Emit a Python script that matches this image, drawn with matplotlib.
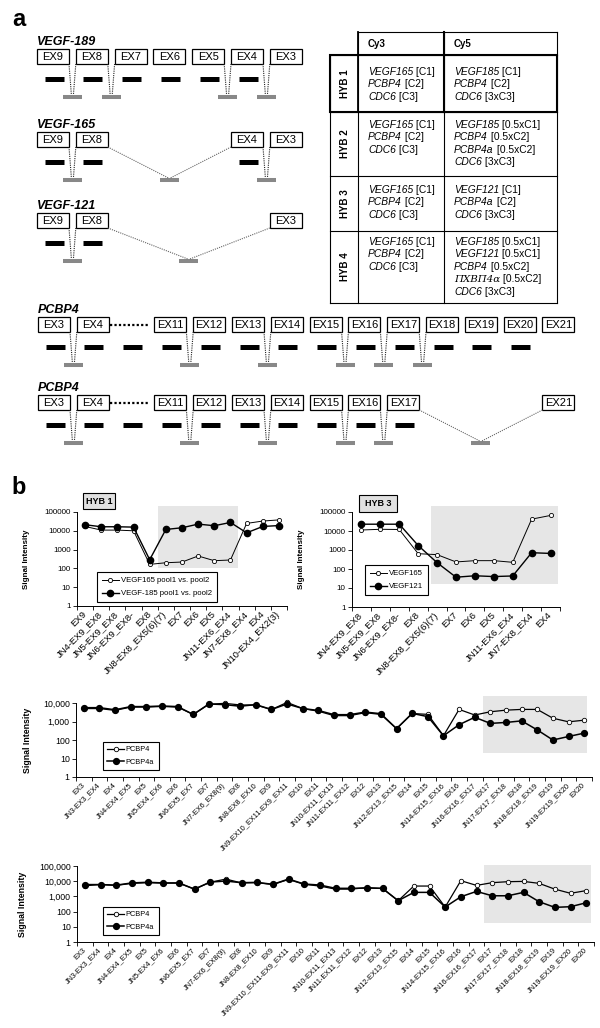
import numpy as np
import matplotlib
matplotlib.use('Agg')
import matplotlib.pyplot as plt
from matplotlib.patches import Rectangle

plt.rcParams['font.family'] = ['Liberation Sans', 'DejaVu Sans']

# ---------------- panel a : transcript diagrams ----------------
vegf_exons = ['EX9', 'EX8', 'EX7', 'EX6', 'EX5', 'EX4', 'EX3']
vegf189_shown = ['EX9', 'EX8', 'EX7', 'EX6', 'EX5', 'EX4', 'EX3']
vegf189_probes = ['EX9', 'EX8', 'EX7', 'EX6', 'EX5', 'EX4']
vegf189_junc = [('EX9', 'EX8'), ('EX8', 'EX7'), ('EX5', 'EX4'), ('EX4', 'EX3')]
vegf165_shown = ['EX9', 'EX8', 'EX4', 'EX3']
vegf165_probes = ['EX9', 'EX8', 'EX4']
vegf165_junc = [('EX9', 'EX8'), ('EX8', 'EX4'), ('EX4', 'EX3')]
vegf121_shown = ['EX9', 'EX8', 'EX3']
vegf121_probes = ['EX9', 'EX8']
vegf121_junc = [('EX9', 'EX8'), ('EX8', 'EX3')]

pcbp4_exons = ['EX3', 'EX4', '...', 'EX11', 'EX12', 'EX13', 'EX14', 'EX15',
               'EX16', 'EX17', 'EX18', 'EX19', 'EX20', 'EX21']
pcbp4_shown = pcbp4_exons
pcbp4_probes = pcbp4_exons[:13]
pcbp4_junc = [('EX3', 'EX4'), ('EX11', 'EX12'), ('EX13', 'EX14'),
              ('EX15', 'EX16'), ('EX16', 'EX17'), ('EX17', 'EX18')]
pcbp4a_shown = ['EX3', 'EX4', '...', 'EX11', 'EX12', 'EX13', 'EX14', 'EX15',
                'EX16', 'EX17', 'EX21']
pcbp4a_probes = pcbp4_exons[:10]
pcbp4a_junc = [('EX3', 'EX4'), ('EX11', 'EX12'), ('EX13', 'EX14'),
               ('EX15', 'EX16'), ('EX16', 'EX17'), ('EX17', 'EX21')]

# table
hyb_rows = ['HYB 1', 'HYB 2', 'HYB 3', 'HYB 4']
cy3_cells = [
    [('VEGF165', '[C1]'), ('PCBP4', '[C2]'), ('CDC6', '[C3]')],
    [('VEGF165', '[C1]'), ('PCBP4', '[C2]'), ('CDC6', '[C3]')],
    [('VEGF165', '[C1]'), ('PCBP4', '[C2]'), ('CDC6', '[C3]')],
    [('VEGF165', '[C1]'), ('PCBP4', '[C2]'), ('CDC6', '[C3]')],
]
cy5_cells = [
    [('VEGF185', '[C1]'), ('PCBP4', '[C2]'), ('CDC6', '[3xC3]')],
    [('VEGF185', '[0.5xC1]'), ('PCBP4', '[0.5xC2]'), ('PCBP4a', '[0.5xC2]'), ('CDC6', '[3xC3]')],
    [('VEGF121', '[C1]'), ('PCBP4a', '[C2]'), ('CDC6', '[3xC3]')],
    [('VEGF185', '[0.5xC1]'), ('VEGF121', '[0.5xC1]'), ('PCBP4', '[0.5xC2]'),
     ('ΠΧΒΠ4α', '[0.5xC2]'), ('CDC6', '[3xC3]')],
]

# ---------------- panel b : signal intensities ----------------
hyb1_cats = ['EX9', 'JN4-EX9_EX8', 'JN5-EX9_EX8', 'JN6-EX9_EX8-', 'EX8',
             'JN8-EX8_EX5(6)(7)', 'EX7', 'EX6', 'EX5', 'JN11-EX6_EX4',
             'JN7-EX8_EX4', 'EX4', 'JN10-EX4_EX2(3)']
hyb1_v165 = [17000, 10900, 10900, 10000, 164, 200, 218, 457, 257, 280, 24700, 33000, 38000]
hyb1_v185 = [21000, 16400, 16400, 15700, 290, 11800, 14500, 22700, 18600, 27800, 7800, 17000, 19000]

hyb3_cats = ['JN4-EX9_EX8', 'JN5-EX9_EX8', 'JN6-EX9_EX8-', 'EX8',
             'JN8-EX8_EX5(6)(7)', 'EX7', 'EX6', 'EX5', 'JN11-EX6_EX4',
             'JN7-EX8_EX4', 'EX4']
hyb3_v165 = [11300, 12300, 12000, 640, 570, 235, 275, 275, 225, 42000, 66000]
hyb3_v121 = [22800, 22800, 22800, 1720, 215, 37, 44, 40, 43, 720, 660]

pcbp_cats = ['EX3', 'JN3-EX3_EX4', 'EX4', 'JN4-EX4_EX5', 'EX5', 'JN5-EX4_EX6',
             'EX6', 'JN6-EX5_EX7', 'EX7', 'JN7-EX6_EX8(9)', 'EX8', 'JN8-EX8_EX10',
             'EX9', 'JN9-EX10_EX11-EX9_EX11', 'EX10', 'EX11', 'JN10-EX11_EX13',
             'JN11-EX11_EX12', 'EX12', 'EX13', 'JN12-EX13_EX15', 'EX14', 'EX15',
             'JN14-EX15_EX16', 'EX16', 'JN16-EX16_EX17', 'EX17', 'JN17-EX17_EX18',
             'EX18', 'JN18-EX18_EX19', 'EX19', 'JN19-EX19_EX20', 'EX20']
hyb2_pcbp4 = [5000, 5000, 4000, 6000, 6000, 6500, 6000, 2400, 8500, 9600, 7850,
              7800, 4400, 10800, 5000, 3600, 2070, 2070, 3000, 2400, 410, 2700,
              2430, 170, 4500, 2240, 3360, 4110, 4500, 4500, 1500, 960, 1180]
hyb2_pcbp4a = [5600, 5600, 4300, 6400, 6400, 6900, 6400, 2400, 8860, 8170, 6680,
               8170, 4460, 8860, 5030, 3950, 2340, 2340, 3230, 2640, 410, 2750,
               1830, 170, 670, 1690, 790, 890, 1080, 350, 100, 155, 235]
hyb4_pcbp4 = [5000, 6000, 5300, 7200, 8000, 7500, 7500, 3000, 8500, 13800, 7700,
              8000, 6000, 13000, 6200, 4800, 3000, 3000, 3800, 3300, 520, 4800,
              4800, 200, 10800, 5300, 8000, 9300, 9700, 7200, 3000, 1600, 2400]
hyb4_pcbp4a = [6000, 6000, 5500, 7700, 8500, 7700, 7700, 3000, 8800, 10200, 7960,
               8400, 6200, 13900, 6500, 5600, 3400, 3400, 3550, 3400, 520, 1840,
               1840, 200, 950, 2130, 1100, 1100, 1840, 445, 190, 210, 380]

W, H = 600, 1028
fig = plt.figure(figsize=(W / 100, H / 100), dpi=100)
ax0 = fig.add_axes([0, 0, 1, 1])
ax0.set_xlim(0, W)
ax0.set_ylim(H, 0)
ax0.axis('off')

ax0.text(19, 19, 'a', fontsize=17, fontweight='bold', ha='center', va='center')
ax0.text(19, 487, 'b', fontsize=17, fontweight='bold', ha='center', va='center')

STEP, BW, BH = 38.8, 32, 15


def transcript(name, exons, shown, probes, junc, top, x0=37):
    slot = {e: i for i, e in enumerate(exons)}
    ax0.text(x0, top - 4, name, fontsize=9, fontweight='bold', style='italic',
             ha='left', va='baseline')
    for e in shown:
        bx = x0 + slot[e] * STEP
        if e == '...':
            ax0.plot([bx - STEP + BW + 1, bx + BW + 1], [top + BH / 2] * 2, color='k',
                     lw=1.6, ls=(0, (1, 1)))
            continue
        ax0.add_patch(Rectangle((bx, top), BW, BH, fill=False, lw=0.9, ec='k'))
        ax0.text(bx + BW / 2, top + BH / 2 + 0.5, e, fontsize=8, ha='center', va='center')
    for e in probes:
        cx = x0 + slot[e] * STEP + BW / 2 + 1
        ax0.plot([cx - 9.5, cx + 9.5], [top + 30] * 2, color='k', lw=3.6,
                 solid_capstyle='butt')
    for a, b in junc:
        xa = x0 + slot[a] * STEP + BW
        xb = x0 + slot[b] * STEP
        cx = (xa + xb) / 2
        ax0.plot([cx - 9.5, cx + 9.5], [top + 47.5] * 2, color='#888888', lw=2.9,
                 solid_capstyle='butt')
        col = '#222222' if slot[b] - slot[a] == 1 else '#666666'
        ax0.plot([xa, cx - 1], [top + BH, top + 46], color=col, lw=0.8, ls=(0, (1, 1)))
        ax0.plot([xb, cx + 1], [top + BH, top + 46], color=col, lw=0.8, ls=(0, (1, 1)))


transcript('VEGF-189', vegf_exons, vegf189_shown, vegf189_probes, vegf189_junc, 49)
transcript('VEGF-165', vegf_exons, vegf165_shown, vegf165_probes, vegf165_junc, 132)
transcript('VEGF-121', vegf_exons, vegf121_shown, vegf121_probes, vegf121_junc, 213)
transcript('PCBP4', pcbp4_exons, pcbp4_shown, pcbp4_probes, pcbp4_junc, 317, x0=38)
transcript('PCBP4', pcbp4_exons, pcbp4a_shown, pcbp4a_probes, pcbp4a_junc, 395, x0=38)

# table
tx = [330, 358, 444, 557]
ty = [32, 55, 112, 176, 231, 303]
lw_t = 0.8
ax0.plot([358, 557], [32, 32], color='k', lw=lw_t)
for y in ty[1:]:
    ax0.plot([330, 557], [y, y], color='k', lw=lw_t)
ax0.plot([330, 330], [55, 303], color='k', lw=lw_t)
for x in tx[1:]:
    ax0.plot([x, x], [32, 303], color='k', lw=lw_t)
ax0.add_patch(Rectangle((330, 55), 227, 57, fill=False, lw=1.5, ec='k'))
ax0.plot([444, 444], [32, 112], color='k', lw=1.5)
ax0.plot([358, 358], [32, 112], color='k', lw=1.3)
ax0.text(368, 44, 'Cy3', fontsize=7, fontweight='bold', va='center')
ax0.text(454, 44, 'Cy5', fontsize=7, fontweight='bold', va='center')

FS_T = 7.4
row_start = [72, 125, 190, 242]
for r, lab in enumerate(hyb_rows):
    ax0.text(345, (ty[r + 1] + ty[r + 2]) / 2, lab, rotation=90, fontsize=7,
             fontweight='bold', ha='center', va='center')
    for cells, cx in ((cy3_cells[r], 368), (cy5_cells[r], 454)):
        for k, (gene, amt) in enumerate(cells):
            y = row_start[r] + k * 12.4
            if gene.isascii():
                t1 = ax0.text(cx, y, gene, fontsize=FS_T, style='italic',
                              ha='left', va='center')
            else:
                t1 = ax0.text(cx, y, gene, fontsize=FS_T, family='DejaVu Serif',
                              style='italic', ha='left', va='center')
            ax0.annotate(' ' + amt, xy=(1, 0), xycoords=t1, fontsize=FS_T,
                         ha='left', va='bottom')


# ---------------- charts ----------------
def px_axes(x0, y0, x1, y1):
    return fig.add_axes([x0 / W, 1 - y1 / H, (x1 - x0) / W, (y1 - y0) / H])


def chart(ax, cats, s_open, s_fill, labels, ymax, comma, shade, fs_x, fs_y,
          fs_lab, lab_x, leg_xy, fs_leg=5.6, ms_o=3, ms_f=4.5, lw_o=0.7, lw_f=1.0):
    n = len(cats)
    x = np.arange(n)
    ax.patch.set_alpha(0)
    ax.set_yscale('log')
    ax.set_ylim(1, ymax)
    ax.set_xlim(-0.5, n - 0.5)
    ax.add_patch(Rectangle((shade[0], shade[2]), shade[1] - shade[0],
                           shade[3] - shade[2], facecolor='#e6e6e6', ec='none',
                           zorder=0, clip_on=False))
    l1, = ax.plot(x, s_open, '-o', color='k', lw=lw_o, ms=ms_o, mfc='white',
                  mec='k', mew=0.6, clip_on=False, zorder=3)
    l2, = ax.plot(x, s_fill, '-o', color='k', lw=lw_f, ms=ms_f, mfc='k',
                  mec='k', clip_on=False, zorder=4)
    for s in ('top', 'right'):
        ax.spines[s].set_visible(False)
    for s in ('left', 'bottom'):
        ax.spines[s].set_linewidth(0.7)
    yt = 10.0 ** np.arange(0, int(round(np.log10(ymax))) + 1)
    ylabs = [f'{int(v):,}' if comma else str(int(v)) for v in yt]
    ax.set_yticks(yt, ylabs, fontsize=fs_y)
    ax.minorticks_off()
    ax.set_xticks(np.arange(n + 1) - 0.5)
    ax.set_xticklabels([])
    ax.set_xticks(x, minor=True)
    ax.set_xticklabels(cats, minor=True, rotation=45, ha='right', va='center',
                       rotation_mode='anchor', fontsize=fs_x)
    ax.tick_params(axis='x', which='major', length=3, width=0.6)
    ax.tick_params(axis='x', which='minor', length=0, pad=5)
    ax.tick_params(axis='y', length=3, width=0.6, pad=1.5)
    ax.set_ylabel('Signal Intensity', fontsize=fs_lab, fontweight='bold')
    ax.yaxis.set_label_coords(lab_x, 0.5)
    leg = ax.legend([l1, l2], labels, loc='lower left',
                    bbox_to_anchor=(leg_xy[0] / W, 1 - leg_xy[1] / H),
                    bbox_transform=fig.transFigure, borderaxespad=0,
                    fontsize=fs_leg, frameon=True, fancybox=False, framealpha=1,
                    handlelength=2.2, handletextpad=0.3, borderpad=0.6,
                    labelspacing=0.7)
    leg.get_frame().set_edgecolor('k')
    leg.get_frame().set_linewidth(0.8)


def hyb_box(x0, y0, x1, y1, txt):
    ax0.add_patch(Rectangle((x0, y0), x1 - x0, y1 - y0, facecolor='#e0e0e0',
                            ec='k', lw=0.8))
    ax0.text((x0 + x1) / 2, (y0 + y1) / 2 + 0.5, txt, fontsize=6.5,
             fontweight='bold', ha='center', va='center')


hyb_box(83, 493, 115, 509, 'HYB 1')
hyb_box(359, 495, 397, 512, 'HYB 3')

a1 = px_axes(77, 512, 287, 606)
chart(a1, hyb1_cats, hyb1_v165, hyb1_v185,
      ['VEGF165 pool1 vs. pool2', 'VEGF-185 pool1 vs. pool2'], 1e5, False,
      (4.53, 9.44, 100, 2.0e5), 6.8, 5.8, 5.8, -0.224, (97, 602))

a2 = px_axes(352, 512, 560, 607)
chart(a2, hyb3_cats, hyb3_v165, hyb3_v121, ['VEGF165', 'VEGF121'], 1e5, False,
      (3.7, 10.4, 16, 2.0e5), 6.8, 5.8, 5.8, -0.226, (365, 595))

a3 = px_axes(76, 703, 592, 777)
chart(a3, pcbp_cats, hyb2_pcbp4, hyb2_pcbp4a, ['PCBP4', 'PCBP4a'], 1e4, True,
      (25.5, 32.2, 20, 2.3e4), 5.3, 6.3, 6.3, -0.085, (103, 770),
      fs_leg=5.3, ms_o=3.2, ms_f=4.2, lw_o=0.9, lw_f=1.1)

a4 = px_axes(77, 866, 594, 942)
chart(a4, pcbp_cats, hyb4_pcbp4, hyb4_pcbp4a, ['PCBP4', 'PCBP4a'], 1e5, True,
      (25.5, 32.3, 19, 1.17e5), 5.3, 6.3, 6.3, -0.097, (103, 935),
      fs_leg=5.3, ms_o=3.2, ms_f=4.2, lw_o=0.9, lw_f=1.1)

fig.savefig('out.png', dpi=100)
